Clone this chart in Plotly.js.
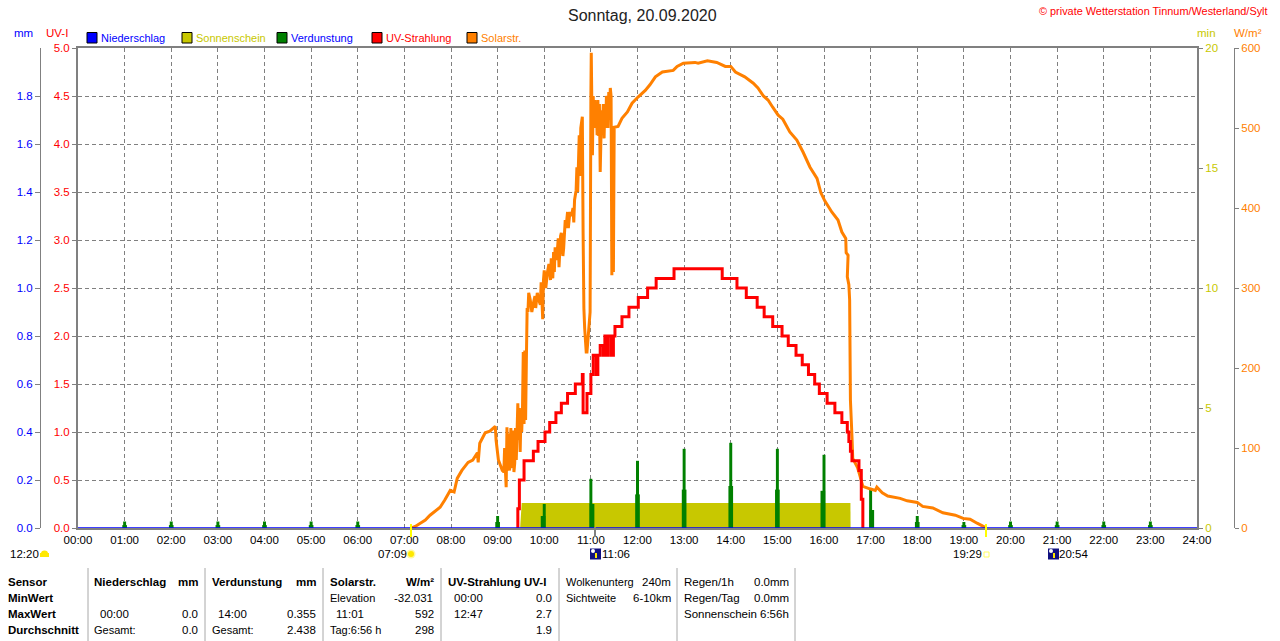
<!DOCTYPE html>
<html><head><meta charset="utf-8">
<script src="https://cdn.plot.ly/plotly-3.0.1.min.js"></script>
<style>html,body{margin:0;padding:0;background:#fff}#c{width:1280px;height:641px}</style>
</head><body><div id="c"></div>
<script>
// x values are minutes after midnight
const hourTicks = [0,60,120,180,240,300,360,420,480,540,600,660,720,780,840,900,960,1020,1080,1140,1200,1260,1320,1380,1440];
const hourLabels = ["00:00","01:00","02:00","03:00","04:00","05:00","06:00","07:00","08:00","09:00","10:00","11:00","12:00","13:00","14:00","15:00","16:00","17:00","18:00","19:00","20:00","21:00","22:00","23:00","24:00"];

const solarT = [429,434,447,453,466,472,479,484,488,494,502,508,514,515,517,524,530,537,538,
 541,546,548,549,550,551,552,553,554,555,556,557,558,559,560,561,562,563,564,565,
 566,567,568,569,570,571,572,573,574,575,576,577,578,579,580,582,584,586,588,589,591,593,595,596,597,598,599,
 600,602,604,606,608,609,611,612,613,614,616,618,619,621,622,624,625,627,628,630,631,633,635,637,638,639,641,642,643,645,646,647,649,
 650,651,652,654,655,659,660,660.5,662,663,664,665,666,667,668,669,670,671,672,673,674,675,676,677,678,679,680,681,682,683,684,685,686,687,688,689,690,
 695,700,707,713,721,730,736,743,752,766,771,779,794,798,810,822,833,840,846,858,869,875,882,888,894,901,907,916,925,933,942,951,956,961,970,978,983,988,988.5,991,990,992,993,994,996,997,1003,1006,1010,1019,1026,1028,1035,1042,1058,1067,1080,1087,1100,1113,1129,1139,1148,1157,1165,1169];
const solarW = [0,2,10,16,26,35,47,45,62,72,82,85,94,82,106,119,121,127,110,
 85,72,70,100,72,51,126,80,118,72,76,125,75,120,120,70,81,125,85,120,
 156,110,150,95,140,120,150,220,130,222,135,210,275,270,294,285,270,281,290,275,294,285,279,307,285,261,310,
 322,300,319,330,310,337,312,345,320,351,335,362,326,365,369,340,350,385,375,395,375,395,390,400,382,410,422,451,420,491,440,500,514,
 369,275,250,220,220,270,539,594,466,540,500,535,505,530,491,535,490,530,445,490,522,505,530,487,530,500,540,537,500,545,510,550,540,316,500,320,501,
 502,512,520,531,539,547,554,564,570,572,577,581,582,581,584,582,577,577,570,564,556,550,540,535,526,516,511,495,485,470,451,437,419,409,395,385,370,362,344,341,314,304,285,160,114,87,76,66,52,49,47,51,44,40,37,34,32,27,25,19,16,12,11,6,2,0];

const uvT = [565,566,568,574,586,592,601,607,615,622,630,640,649,650,655,660,663,667,669,672,676,678,681,682,686,689,691,700,709,721,733,744,767,829,848,860,874,883,894,906,914,924,932,940,948,954,964,974,983,990,992,994,996,997,1005,1008,1010];
const uvI = [0,0.2,0.5,0.7,0.8,0.9,1.0,1.1,1.2,1.3,1.4,1.5,1.6,1.2,1.4,1.6,1.8,1.6,1.8,1.9,1.8,2.0,1.8,2.0,1.8,2.0,2.1,2.2,2.3,2.4,2.5,2.6,2.7,2.6,2.5,2.4,2.3,2.2,2.1,2.0,1.9,1.8,1.7,1.6,1.5,1.4,1.3,1.2,1.1,1.0,0.9,0.8,0.7,0.7,0.6,0.3,0];

const evapPeakT = [60,120,180,240,300,360,540,600,660,720,780,840,900,960,1020,1080,1140,1200,1260,1320,1380];
const evapPeakV = [0.027,0.027,0.027,0.027,0.027,0.027,0.05,0.1,0.205,0.28,0.33,0.355,0.33,0.305,0.16,0.05,0.025,0.027,0.027,0.027,0.027];
const evapBaseT = [60,120,180,240,300,360,540,598.5,661.5,720,780,840,900,958.5,1021.5,1080,1140,1200,1260,1320,1380];
const evapBaseV = [0.012,0.012,0.012,0.012,0.012,0.012,0.025,0.05,0.1,0.14,0.16,0.175,0.16,0.155,0.075,0.025,0.012,0.012,0.012,0.012,0.012];

const sunT = [569,571,994,994.2];
const sunMin = [0,1.04,1.04,0];
const rainT = [0,1440];
const rainMm = [0,0];

const mmTicks = [0,0.2,0.4,0.6,0.8,1.0,1.2,1.4,1.6,1.8];
const uvTicks = [0,0.5,1,1.5,2,2.5,3,3.5,4,4.5,5];
const minTicks = [0,5,10,15,20];
const wTicks = [0,100,200,300,400,500,600];

const legendNames = ["Niederschlag","Sonnenschein","Verdunstung","UV-Strahlung","Solarstr."];
const legendFill = ["#0000ff","#c8c800","#008000","#ff0000","#ff8000"];
const legendText = ["#0000ff","#c8c800","#0000ff","#ff0000","#ff8000"];

const C = {grey:"#808080",blue:"#0000ff",red:"#ff0000",orange:"#ff8000",yellow:"#c8c800",green:"#008000"};
const FONT = "Liberation Sans";
const px = x => x/1280, py = y => 1-y/641;
const annotations = [], shapes = [];
function T(text,x,y,o={}){annotations.push({text,x:px(x),y:py(y),xref:"paper",yref:"paper",showarrow:false,xanchor:o.a||"left",yanchor:"middle",borderpad:0,borderwidth:0,font:{family:FONT,size:o.s||11.5,color:o.c||"#000"}});}
function R(x0,y0,x1,y1,fill,line,type){shapes.push({type:type||"rect",xref:"paper",yref:"paper",x0:px(x0),x1:px(x1),y0:py(y0),y1:py(y1),fillcolor:fill,line:{color:line||fill,width:line?1:0}});}
function L(x0,y0,x1,y1,color,w){shapes.push({type:"line",xref:"paper",yref:"paper",x0:px(x0),x1:px(x1),y0:py(y0),y1:py(y1),line:{color,width:w}});}

// headers
T("Sonntag, 20.09.2020",642.5,15,{a:"center",s:16,c:"#222"});
T("© private Wetterstation Tinnum/Westerland/Sylt",1268,11,{a:"right",c:C.red,s:10.9});
T("mm",14,33,{c:C.blue}); T("UV-I",46,33,{c:C.red});
T("min",1197,33,{c:C.yellow}); T("W/m²",1234,33,{c:C.orange});
// legend
[87,182,277,372,467].forEach((x,i)=>{R(x,32.5,x+10,43,legendFill[i],"#000");T(legendNames[i],x+14,38,{c:legendText[i],s:11});});

// sun/moon times
T("12:20",10,554); T("07:09",378,554); T("11:06",602,554); T("19:29",953,554); T("20:54",1059,554);
R(40,553,49,557,"#ffe800"); R(41,550.5,48,557,"#ffe800",null,"circle");
R(406.5,549.5,415.5,558.5,"#fff8a0",null,"circle"); R(408,551,414,557,"#ffe800",null,"circle");
R(984,552,989,557,"#fff","#ffff60");
[590,1048].forEach(x=>{R(x,548.5,x+11,559.5,"#101080");R(x+1,549,x+5,553,"#fff",null,"circle");R(x+5,553,x+7,558,"#ffe800");});
// sunrise / sunset / noon markers
L(411,524,411,537,"#ffff00",2); L(986,524,986,537,"#ffff00",2); L(595,527,595,537,C.grey,2);

// table
[88,205,323,441,559,677,795].forEach(x=>L(x,568,x,641,"#a8a8a8",1));
const B = t=>"<b>"+t+"</b>";
T(B("Sensor"),8,582);T(B("MinWert"),8,598);T(B("MaxWert"),8,614);T(B("Durchschnitt"),8,630);
T(B("Niederschlag"),94,582);T(B("mm"),198,582,{a:"right"});
T("00:00",100,614);T("0.0",198,614,{a:"right"});T("Gesamt:",94,630,{s:11});T("0.0",198,630,{a:"right"});
T(B("Verdunstung"),212,582);T(B("mm"),316,582,{a:"right"});
T("14:00",218,614);T("0.355",316,614,{a:"right"});T("Gesamt:",212,630,{s:11});T("2.438",316,630,{a:"right"});
T(B("Solarstr."),330,582);T(B("W/m²"),434,582,{a:"right"});
T("Elevation",330,598,{s:11});T("-32.031",433,598,{a:"right"});T("11:01",336,614);T("592",434,614,{a:"right"});T("Tag:6:56 h",330,630,{s:11});T("298",434,630,{a:"right"});
T(B("UV-Strahlung UV-I"),448,582);T("00:00",454,598);T("0.0",552,598,{a:"right"});T("12:47",454,614);T("2.7",552,614,{a:"right"});T("1.9",552,630,{a:"right"});
T("Wolkenunterg",566,582,{s:11});T("240m",671,582,{a:"right"});T("Sichtweite",566,598,{s:11});T("6-10km",671,598,{a:"right"});
T("Regen/1h",684,582);T("0.0mm",789,582,{a:"right"});T("Regen/Tag",684,598);T("0.0mm",789,598,{a:"right"});T("Sonnenschein",684,614);T("6:56h",789,614,{a:"right"});

const data = [
 {type:"scatter",mode:"lines",x:sunT,y:sunMin,yaxis:"y",fill:"tozeroy",fillcolor:C.yellow,line:{color:C.yellow,width:0},name:"Sonnenschein"},
 {type:"bar",x:evapBaseT,y:evapBaseV,yaxis:"y2",width:6,marker:{color:C.green,line:{width:0}},name:"Verdunstung"},
 {type:"bar",x:evapPeakT,y:evapPeakV,yaxis:"y2",width:3.8,marker:{color:C.green,line:{width:0}},name:"Verdunstung"},
 {type:"scatter",mode:"lines",x:solarT,y:solarW,yaxis:"y3",line:{color:C.orange,width:3,simplify:false},name:"Solarstr."},
 {type:"scatter",mode:"lines",x:uvT,y:uvI,yaxis:"y4",line:{color:C.red,width:3,shape:"hv"},name:"UV-Strahlung"},
 {type:"scatter",mode:"lines",x:rainT,y:rainMm,yaxis:"y5",line:{color:C.blue,width:1.5},cliponaxis:false,name:"Niederschlag"}
];
const dom = [py(528),py(48)];
const tf = c=>({family:FONT,size:11.5,color:c});
const yBase = {domain:dom,zeroline:false,showgrid:false,showline:true,linecolor:C.grey,ticks:"outside",tickcolor:C.grey,tickmode:"array"};
const layout = {
 width:1280,height:641,margin:{l:0,r:0,t:0,b:0,pad:0},paper_bgcolor:"#fff",plot_bgcolor:"#fff",showlegend:false,barmode:"overlay",
 xaxis:{domain:[px(78),px(1197)],range:[0,1440],tickmode:"array",tickvals:hourTicks,ticktext:hourLabels,showgrid:true,gridcolor:C.grey,griddash:"4px,3px",gridwidth:1,zeroline:false,showline:true,linecolor:C.grey,linewidth:2,mirror:true,ticks:"",ticklen:0,tickangle:0,tickfont:tf("#000"),fixedrange:true,automargin:false},
 yaxis:Object.assign({},yBase,{range:[0,20],side:"right",anchor:"x",tickvals:minTicks,ticktext:minTicks.map(String),tickfont:tf(C.yellow),ticklen:4,linewidth:2,automargin:false}),
 yaxis2:Object.assign({},yBase,{range:[0,2],overlaying:"y",side:"left",anchor:"free",position:px(40),tickvals:mmTicks,ticktext:mmTicks.map(v=>v.toFixed(1)),tickfont:tf(C.blue),ticklen:5,automargin:false}),
 yaxis3:Object.assign({},yBase,{range:[0,600],overlaying:"y",side:"right",anchor:"free",position:px(1234),tickvals:wTicks,ticktext:wTicks.map(String),tickfont:tf(C.orange),ticklen:4,automargin:false}),
 yaxis4:Object.assign({},yBase,{range:[0,5],overlaying:"y",side:"left",anchor:"x",tickvals:uvTicks,ticktext:uvTicks.map(v=>v.toFixed(1)),tickfont:tf(C.red),ticklen:4,showgrid:true,gridcolor:C.grey,griddash:"4px,3px",gridwidth:1,linewidth:2,automargin:false}),
 yaxis5:{domain:dom,range:[0,2],overlaying:"y",side:"left",anchor:"x",visible:false},
 annotations,shapes
};
Plotly.newPlot("c",data,layout,{displayModeBar:false,staticPlot:true});
</script></body></html>
